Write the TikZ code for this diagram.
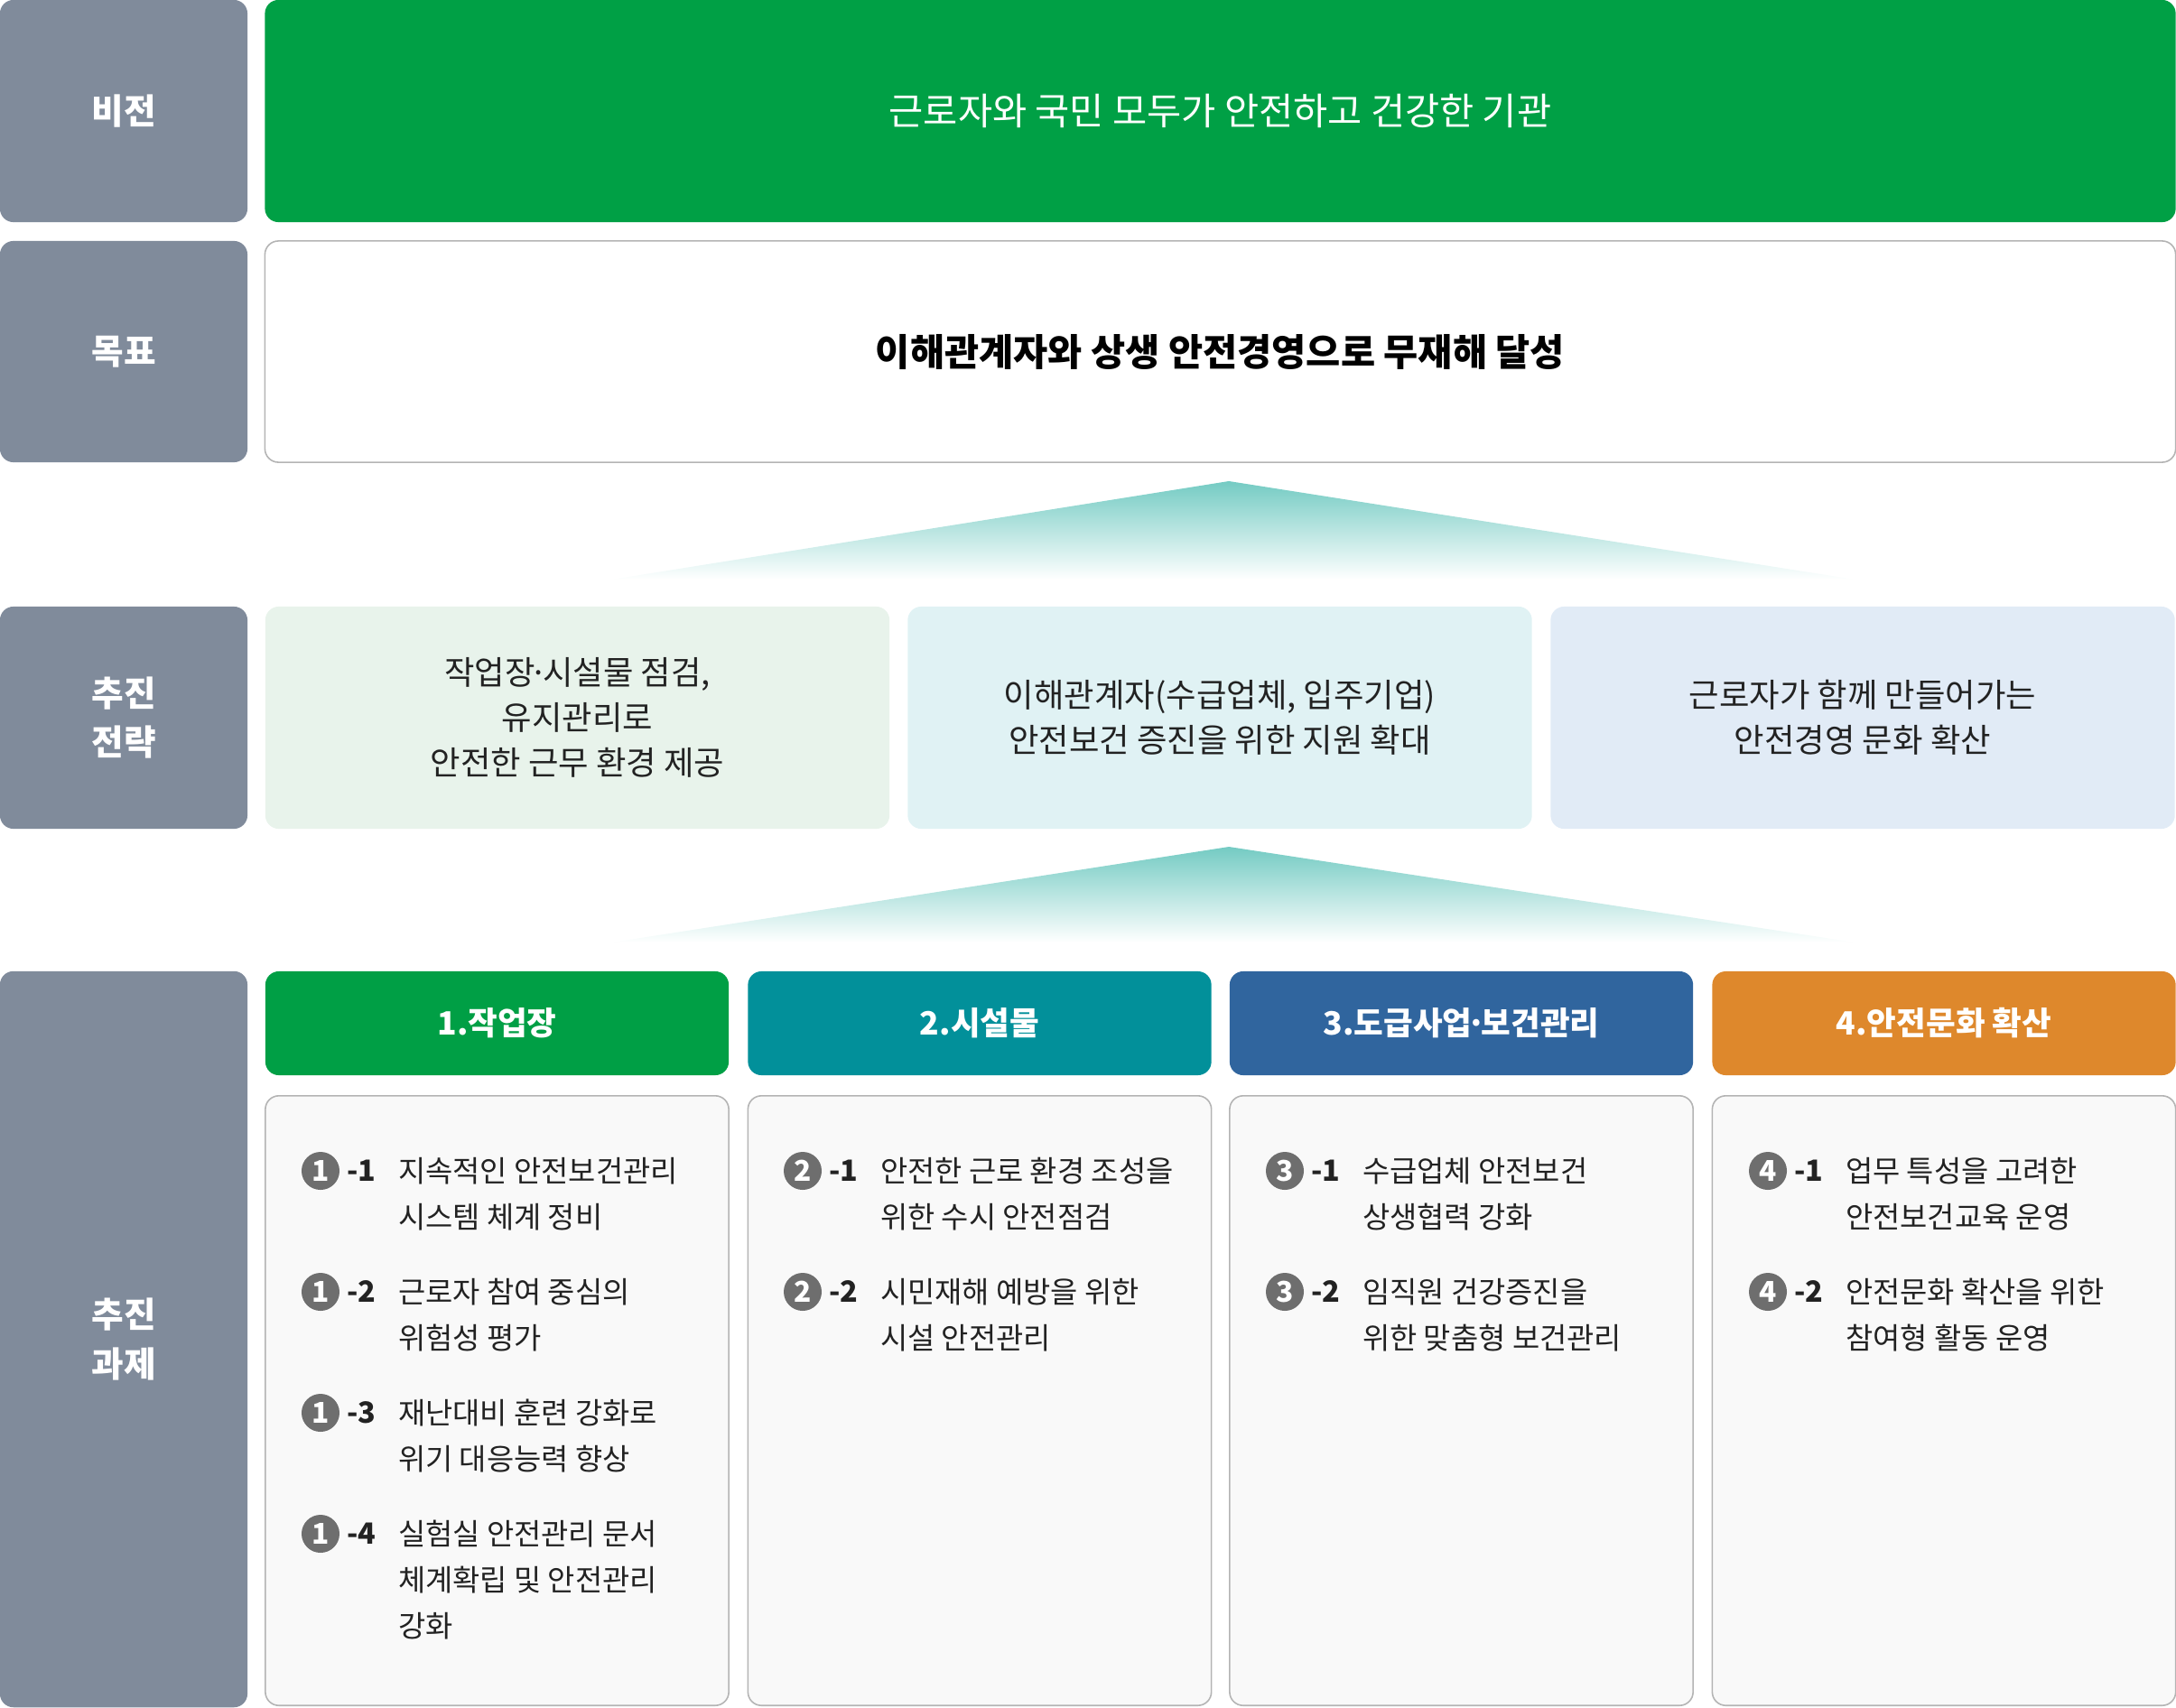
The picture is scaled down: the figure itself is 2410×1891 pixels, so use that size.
\documentclass[tikz,border=0pt]{standalone}
\usepackage{fontspec}
\setmainfont{Noto Sans CJK KR}
\usepackage{xcolor}
\usetikzlibrary{positioning}

\definecolor{labelgrey}{HTML}{808B9B}
\definecolor{visiongreen}{HTML}{00A045}
\definecolor{boxline}{HTML}{B4B4B4}
\definecolor{stratgreen}{HTML}{E8F3EB}
\definecolor{stratcyan}{HTML}{E0F2F4}
\definecolor{stratblue}{HTML}{E1EBF6}
\definecolor{headgreen}{HTML}{009F45}
\definecolor{headteal}{HTML}{02909A}
\definecolor{headblue}{HTML}{30659E}
\definecolor{headorange}{HTML}{DE882C}
\definecolor{contentbg}{HTML}{F9F9F9}
\definecolor{numgrey}{HTML}{6E6E6E}
\definecolor{textdark}{HTML}{222222}
\definecolor{tealtop}{HTML}{74CBC3}

% narrow middle dot
\newcommand{\mdot}{\kern-0.16em·\kern-0.16em}

\begin{document}
\begin{tikzpicture}[x=0.01cm, y=-0.01cm, every node/.style={inner sep=0pt, outer sep=0pt}]
    % Define styles for the row labels, boxes and task items
    \tikzstyle{rowlabel} = [fill=labelgrey, rounded corners=0.15cm, minimum width=2.74cm, text=white, align=center, font=\bfseries\fontsize{11}{15.4}\selectfont]
    \tikzstyle{visionbox} = [fill=visiongreen, rounded corners=0.15cm, minimum width=21.15cm, minimum height=2.46cm, text=white, font=\fontsize{11.8}{14}\selectfont]
    \tikzstyle{goalbox} = [draw=boxline, line width=0.45pt, fill=white, rounded corners=0.15cm, minimum width=21.15cm, minimum height=2.45cm, font=\bfseries\fontsize{11.8}{14}\selectfont]
    \tikzstyle{stratbox} = [rounded corners=0.15cm, minimum width=6.91cm, minimum height=2.46cm, align=center, text=textdark, font=\fontsize{10.35}{14.2}\selectfont]
    \tikzstyle{header} = [rounded corners=0.15cm, minimum width=5.13cm, minimum height=1.15cm, text=white, font=\bfseries\fontsize{10.1}{12}\selectfont]
    \tikzstyle{content} = [draw=boxline, line width=0.45pt, fill=contentbg, rounded corners=0.15cm, minimum width=5.13cm, minimum height=6.75cm]
    \tikzstyle{num} = [circle, fill=numgrey, minimum size=0.42cm, text=white, font=\bfseries\fontsize{9}{10}\selectfont]
    \tikzstyle{sub} = [anchor=west, text=textdark, font=\bfseries\fontsize{9.2}{14.5}\selectfont]
    \tikzstyle{item} = [anchor=west, align=left, text=textdark, font=\fontsize{9.35}{14.5}\selectfont]

    \useasboundingbox (0,0) rectangle (2410,1891);

    % Vision and goal rows
    \node [rowlabel, minimum height=2.46cm] (visionlabel) at (137,123) {비전};
    \node [visionbox] (vision) at (1351.5,123) {근로자와 국민 모두가 안전하고 건강한 기관};
    \node [rowlabel, minimum height=2.45cm] (goallabel) at (137,389.5) {목표};
    \node [goalbox] (goal) at (1351.5,389.5) {이해관계자와 상생 안전경영으로 무재해 달성};

    % Shaded wedges between the rows
    \shade [top color=tealtop, bottom color=white] (1361,533) -- (2055,642) -- (677,642) -- cycle;
    \shade [top color=tealtop, bottom color=white] (1361,938) -- (2055,1044) -- (677,1044) -- cycle;

    % Strategy row
    \node [rowlabel, minimum height=2.46cm] (stratlabel) at (137,795) {추진\\전략};
    \node [stratbox, fill=stratgreen] (strat1) at (639.5,795) {작업장\mdot 시설물 점검,\\유지관리로\\안전한 근무 환경 제공};
    \node [stratbox, fill=stratcyan] (strat2) at (1351,795) {이해관계자(수급업체, 입주기업)\\안전보건 증진을 위한 지원 확대};
    \node [stratbox, fill=stratblue] (strat3) at (2063,795) {근로자가 함께 만들어가는\\안전경영 문화 확산};

    % Task row: headers and content boxes
    \node [rowlabel, minimum height=8.15cm] (tasklabel) at (137,1483.5) {추진\\과제};
    \node [header, fill=headgreen] (head1) at (550.5,1133.5) {1.작업장};
    \node [header, fill=headteal] (head2) at (1085,1133.5) {2.시설물};
    \node [header, fill=headblue] (head3) at (1618.5,1133.5) {3.도급사업\mdot 보건관리};
    \node [header, fill=headorange] (head4) at (2153,1133.5) {4.안전문화 확산};
    \node [content] (body1) at (550.5,1551.5) {};
    \node [content] (body2) at (1085,1551.5) {};
    \node [content] (body3) at (1618.5,1551.5) {};
    \node [content] (body4) at (2153,1551.5) {};

    % Items of column 1
    \node [num] (n11) at (355,1297) {1};
    \node [sub] (s11) at (384,1297) {-1};
    \node [item] (t11) at (441,1322.5) {지속적인 안전보건관리\\시스템 체계 정비};
    \node [num] (n12) at (355,1431) {1};
    \node [sub] (s12) at (384,1431) {-2};
    \node [item] (t12) at (441,1456.5) {근로자 참여 중심의\\위험성 평가};
    \node [num] (n13) at (355,1565) {1};
    \node [sub] (s13) at (384,1565) {-3};
    \node [item] (t13) at (441,1590.5) {재난대비 훈련 강화로\\위기 대응능력 향상};
    \node [num] (n14) at (355,1699) {1};
    \node [sub] (s14) at (384,1699) {-4};
    \node [item] (t14) at (441,1750) {실험실 안전관리 문서\\체계확립 및 안전관리\\강화};

    % Items of column 2
    \node [num] (n21) at (889,1297) {2};
    \node [sub] (s21) at (918,1297) {-1};
    \node [item] (t21) at (975,1322.5) {안전한 근로 환경 조성을\\위한 수시 안전점검};
    \node [num] (n22) at (889,1431) {2};
    \node [sub] (s22) at (918,1431) {-2};
    \node [item] (t22) at (975,1456.5) {시민재해 예방을 위한\\시설 안전관리};

    % Items of column 3
    \node [num] (n31) at (1423,1297) {3};
    \node [sub] (s31) at (1452,1297) {-1};
    \node [item] (t31) at (1509,1322.5) {수급업체 안전보건\\상생협력 강화};
    \node [num] (n32) at (1423,1431) {3};
    \node [sub] (s32) at (1452,1431) {-2};
    \node [item] (t32) at (1509,1456.5) {임직원 건강증진을\\위한 맞춤형 보건관리};

    % Items of column 4
    \node [num] (n41) at (1958,1297) {4};
    \node [sub] (s41) at (1987,1297) {-1};
    \node [item] (t41) at (2044,1322.5) {업무 특성을 고려한\\안전보건교육 운영};
    \node [num] (n42) at (1958,1431) {4};
    \node [sub] (s42) at (1987,1431) {-2};
    \node [item] (t42) at (2044,1456.5) {안전문화 확산을 위한\\참여형 활동 운영};
\end{tikzpicture}
\end{document}
